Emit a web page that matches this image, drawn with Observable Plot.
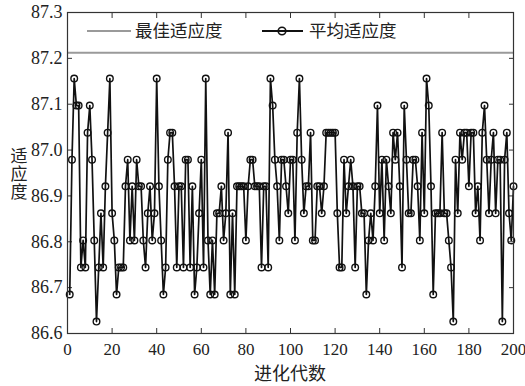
<!DOCTYPE html>
<html><head><meta charset="utf-8">
<script src="https://cdn.jsdelivr.net/npm/d3@7"></script>
<script src="https://cdn.jsdelivr.net/npm/@observablehq/plot@0.6"></script>
<style>html,body{margin:0;padding:0;background:#fff;} svg{display:block;}</style>
</head><body><div id="chart"></div>
<script>
const seriesNames = ["最佳适应度", "平均适应度"];
const xLabel = "进化代数";
const yLabel = "适应度";
const xTicks = [0, 20, 40, 60, 80, 100, 120, 140, 160, 180, 200];
const yTicks = [86.6, 86.7, 86.8, 86.9, 87.0, 87.1, 87.2, 87.3];
const bestFitness = 87.212;
const avgFitness = [
86.685, 86.979, 87.156, 87.097, 87.097, 86.744, 86.803, 86.744, 87.038, 87.097,
86.979, 86.803, 86.626, 86.744, 86.862, 86.744, 86.921, 87.038, 87.156, 86.862,
86.803, 86.685, 86.744, 86.744, 86.744, 86.921, 86.979, 86.803, 86.921, 86.803,
86.979, 86.921, 86.921, 86.803, 86.744, 86.862, 86.921, 86.803, 86.862, 87.156,
86.921, 86.803, 86.685, 86.744, 86.979, 87.038, 87.038, 86.921, 86.744, 86.921,
86.921, 86.744, 86.979, 86.979, 86.744, 86.921, 86.685, 86.744, 86.862, 86.979,
86.744, 87.156, 86.803, 86.685, 86.803, 86.685, 86.862, 86.862, 86.921, 86.803,
86.862, 87.038, 86.685, 86.862, 86.685, 86.921, 86.921, 86.921, 86.921, 86.803,
86.921, 86.979, 86.979, 86.921, 86.921, 86.921, 86.744, 86.921, 86.921, 86.744,
87.156, 87.097, 86.979, 86.921, 86.803, 86.979, 86.979, 86.921, 86.862, 86.979,
86.979, 86.803, 87.038, 87.156, 86.979, 86.862, 86.921, 86.921, 87.038, 86.803,
86.803, 86.921, 86.921, 86.862, 86.921, 87.038, 87.038, 87.038, 87.038, 87.038,
86.862, 86.744, 86.744, 86.979, 86.862, 86.921, 86.979, 86.921, 86.744, 86.921,
86.921, 86.862, 86.862, 86.685, 86.803, 86.862, 86.803, 86.921, 87.097, 86.862,
86.979, 86.803, 86.979, 86.921, 86.862, 87.038, 86.979, 87.038, 86.921, 86.744,
87.097, 86.979, 86.862, 86.862, 86.979, 86.979, 86.921, 86.803, 87.038, 86.862,
87.156, 87.097, 86.921, 86.685, 86.862, 86.862, 86.862, 87.038, 86.862, 86.862,
86.803, 86.744, 86.626, 86.979, 86.862, 87.038, 86.979, 87.038, 87.038, 86.921,
87.038, 87.038, 86.862, 86.921, 86.803, 87.038, 87.097, 86.979, 86.862, 86.979,
87.038, 86.862, 86.979, 86.979, 86.626, 86.979, 87.038, 86.862, 86.803, 86.921
];
const data = avgFitness.map((v, i) => ({gen: i + 1, fit: v}));

const serif = "'Liberation Serif','DejaVu Serif',serif";
const cjk = "'Noto Sans CJK SC',sans-serif";

const chart = Plot.plot({
  width: 525, height: 386,
  marginLeft: 67, marginRight: 12, marginTop: 12, marginBottom: 53,
  style: {fontFamily: serif, fontSize: "18px", background: "#fff", color: "#222"},
  x: {domain: [0, 200], ticks: xTicks},
  y: {domain: [86.6, 87.3], ticks: yTicks},
  marks: [
    Plot.axisX({ticks: xTicks, tickSize: 0, tickPadding: 9, label: null, fontSize: 17}),
    Plot.axisY({ticks: yTicks, tickSize: 0, tickPadding: 5, label: null, fontSize: 18, tickFormat: d3.format(".1f")}),
    Plot.axisX({ticks: xTicks, tickSize: -5, tickFormat: () => "", label: null, stroke: "#333"}),
    Plot.axisX({ticks: xTicks, anchor: "top", tickSize: -5, tickFormat: () => "", label: null, stroke: "#333"}),
    Plot.axisY({ticks: yTicks, tickSize: -5, tickFormat: () => "", label: null, stroke: "#333"}),
    Plot.axisY({ticks: yTicks, anchor: "right", tickSize: -5, tickFormat: () => "", label: null, stroke: "#333"}),
    Plot.ruleY([bestFitness], {stroke: "#9a9a9a", strokeWidth: 2}),
    Plot.line(data, {x: "gen", y: "fit", stroke: "#111", strokeWidth: 1.7}),
    Plot.dot(data, {x: "gen", y: "fit", r: 3.3, stroke: "#111", strokeWidth: 1.4, fill: "none"}),
    Plot.frame({stroke: "#333", strokeWidth: 1.2})
  ]
});
document.getElementById("chart").appendChild(chart);

// legend and axis titles
const svg = d3.select(chart);
const lg = svg.append("g").attr("text-anchor", "start");
lg.append("line").attr("x1", 87).attr("x2", 131).attr("y1", 31).attr("y2", 31)
  .attr("stroke", "#9a9a9a").attr("stroke-width", 2);
lg.append("text").attr("x", 135).attr("y", 37).attr("text-anchor", "start")
  .attr("font-family", cjk).attr("font-size", 17.5).attr("fill", "#222").text(seriesNames[0]);
lg.append("line").attr("x1", 262).attr("x2", 303).attr("y1", 31).attr("y2", 31)
  .attr("stroke", "#111").attr("stroke-width", 2);
lg.append("circle").attr("cx", 282).attr("cy", 31).attr("r", 3.8)
  .attr("stroke", "#111").attr("stroke-width", 1.6).attr("fill", "none");
lg.append("text").attr("x", 309).attr("y", 37).attr("text-anchor", "start")
  .attr("font-family", cjk).attr("font-size", 17.5).attr("fill", "#222").text(seriesNames[1]);

svg.append("text").attr("x", 290).attr("y", 380).attr("text-anchor", "middle")
  .attr("font-family", cjk).attr("font-size", 18).attr("fill", "#222").text(xLabel);

svg.append("text").attr("x", 19).attr("y", 174).attr("text-anchor", "middle")
  .style("writing-mode", "vertical-rl").style("letter-spacing", "1px")
  .attr("font-family", cjk).attr("font-size", 17).attr("fill", "#222").text(yLabel);
</script>
</body></html>
